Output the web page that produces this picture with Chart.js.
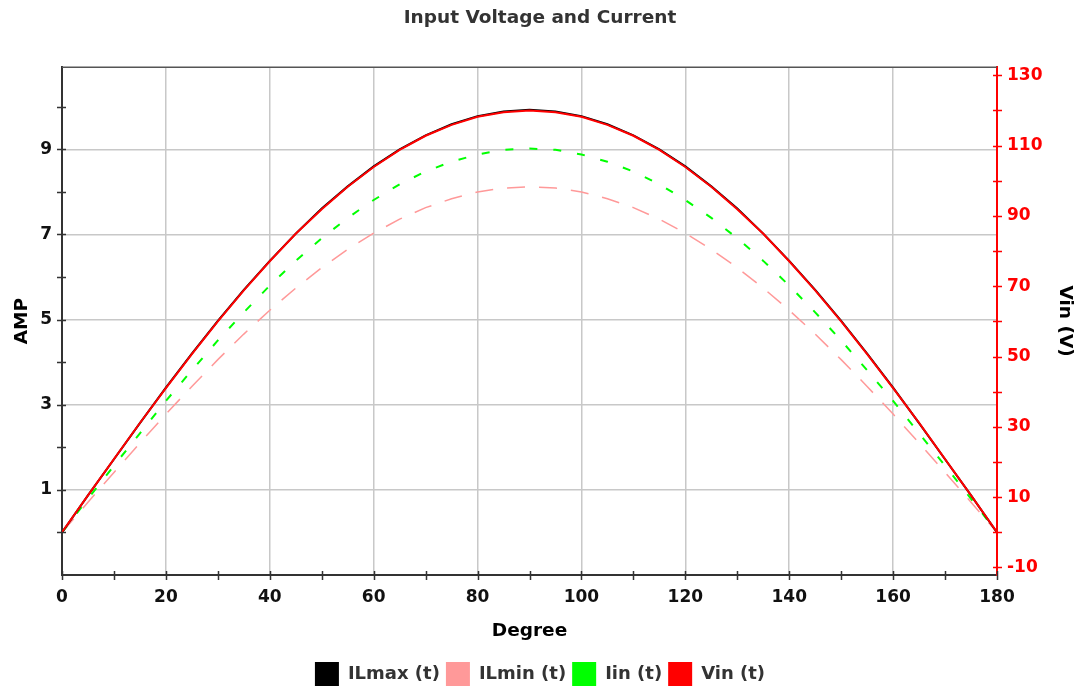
<!DOCTYPE html>
<html>
<head>
<meta charset="utf-8">
<script src="https://cdn.jsdelivr.net/npm/chart.js@4/dist/chart.umd.min.js"></script>
<style>
  html, body { margin: 0; padding: 0; background: #ffffff; }
  #wrap { width: 1080px; height: 696px; }
</style>
</head>
<body>
<div id="wrap"><canvas id="c" width="1080" height="696"></canvas></div>
<script>
// ---- Data ----
const degrees = [0,5,10,15,20,25,30,35,40,45,50,55,60,65,70,75,80,85,90,95,100,105,110,115,120,125,130,135,140,145,150,155,160,165,170,175,180];
const ilmax = [0,0.87,1.72,2.57,3.40,4.20,4.97,5.70,6.38,7.02,7.61,8.13,8.60,9.00,9.33,9.59,9.78,9.89,9.93,9.89,9.78,9.59,9.33,9.00,8.60,8.13,7.61,7.02,6.38,5.70,4.97,4.20,3.40,2.57,1.72,0.87,0];
const ilmin = [0,0.71,1.41,2.10,2.78,3.43,4.06,4.66,5.22,5.74,6.22,6.65,7.03,7.36,7.63,7.84,8.00,8.09,8.12,8.09,8.00,7.84,7.63,7.36,7.03,6.65,6.22,5.74,5.22,4.66,4.06,3.43,2.78,2.10,1.41,0.71,0];
const iin = [0,0.79,1.57,2.33,3.09,3.81,4.51,5.17,5.80,6.38,6.91,7.39,7.81,8.18,8.48,8.71,8.88,8.99,9.02,8.99,8.88,8.71,8.48,8.18,7.81,7.39,6.91,6.38,5.80,5.17,4.51,3.81,3.09,2.33,1.57,0.79,0];
const vin = [0,10.5,20.8,31.1,41.0,50.7,60.0,68.8,77.1,84.9,91.9,98.3,103.9,108.8,112.8,115.9,118.2,119.5,120.0,119.5,118.2,115.9,112.8,108.8,103.9,98.3,91.9,84.9,77.1,68.8,60.0,50.7,41.0,31.1,20.8,10.5,0];

const xTicks = [0,10,20,30,40,50,60,70,80,90,100,110,120,130,140,150,160,170,180];
const ampTicks = [0,1,2,3,4,5,6,7,8,9,10];
const voltTicks = [-10,0,10,20,30,40,50,60,70,80,90,100,110,120,130];

const seriesNames = ['ILmax (t)', 'ILmin (t)', 'Iin (t)', 'Vin (t)'];

const pts = (ys) => degrees.map((d, i) => ({ x: d, y: ys[i] }));
const FONT = "'DejaVu Sans', 'Verdana', sans-serif";

// Tick marks crossing the axis lines
const tickMarks = {
  id: 'tickMarks',
  afterDraw(chart) {
    const { ctx, chartArea: a, scales } = chart;
    ctx.save();
    ctx.strokeStyle = '#555';
    ctx.lineWidth = 1.5;
    ctx.beginPath();
    ctx.moveTo(a.left, a.top);
    ctx.lineTo(a.right, a.top);
    ctx.stroke();
    ctx.strokeStyle = '#333';
    ctx.lineWidth = 1.5;
    ctx.beginPath();
    scales.y.ticks.forEach(t => {
      const p = Math.round(scales.y.getPixelForValue(t.value)) + 0.5;
      ctx.moveTo(a.left - 5, p); ctx.lineTo(a.left + 4, p);
    });
    scales.x.ticks.forEach(t => {
      const p = Math.round(scales.x.getPixelForValue(t.value)) + 0.5;
      ctx.moveTo(p, a.bottom - 4); ctx.lineTo(p, a.bottom + 5);
    });
    ctx.stroke();
    ctx.strokeStyle = '#ff0000';
    ctx.beginPath();
    scales.y1.ticks.forEach(t => {
      const p = Math.round(scales.y1.getPixelForValue(t.value)) + 0.5;
      ctx.moveTo(a.right - 4, p); ctx.lineTo(a.right + 5, p);
    });
    ctx.stroke();
    ctx.restore();
  }
};

new Chart(document.getElementById('c'), {
  type: 'line',
  data: {
    datasets: [
      { label: seriesNames[0], data: pts(ilmax), yAxisID: 'y', borderColor: '#000000', backgroundColor: '#000000', borderWidth: 2, order: 1 },
      { label: seriesNames[1], data: pts(ilmin), yAxisID: 'y', borderColor: '#ff9999', backgroundColor: '#ff9999', borderWidth: 1.5, borderDash: [18, 14], order: 3 },
      { label: seriesNames[2], data: pts(iin), yAxisID: 'y', borderColor: '#00ff00', backgroundColor: '#00ff00', borderWidth: 2, borderDash: [8, 16], order: 2 },
      { label: seriesNames[3], data: pts(vin), yAxisID: 'y1', borderColor: '#ff0000', backgroundColor: '#ff0000', borderWidth: 2, order: 0 }
    ]
  },
  options: {
    responsive: false,
    animation: false,
    devicePixelRatio: 1,
    layout: { padding: 0 },
    elements: { point: { radius: 0, hoverRadius: 0 }, line: { tension: 0 } },
    plugins: {
      tooltip: { enabled: false },
      title: {
        display: true,
        text: 'Input Voltage and Current',
        color: '#333333',
        font: { family: FONT, size: 18.5, weight: 'bold' },
        padding: { top: 7, bottom: 38 }
      },
      legend: {
        position: 'bottom',
        labels: {
          boxWidth: 24,
          boxHeight: 24,
          padding: 6,
          color: '#333333',
          font: { family: FONT, size: 18, weight: 'bold' },
          sort: (a, b) => a.datasetIndex - b.datasetIndex,
          generateLabels: (chart) => Chart.defaults.plugins.legend.labels.generateLabels(chart).map(it => {
            it.lineWidth = 0; it.lineDash = []; it.fillStyle = it.strokeStyle; return it;
          })
        }
      }
    },
    scales: {
      x: {
        type: 'linear',
        min: 0, max: 180,
        afterBuildTicks: (s) => { s.ticks = xTicks.map(v => ({ value: v })); },
        afterFit: (s) => { s.height = 81; },
        ticks: {
          autoSkip: false, maxRotation: 0, padding: 12,
          color: '#111111',
          font: { family: FONT, size: 17, weight: 'bold' },
          callback: (v) => (v % 20 === 0 ? String(v) : '')
        },
        grid: {
          drawTicks: false,
          lineWidth: 1.5,
          color: (c) => (c.tick && c.tick.value % 20 === 0 && c.tick.value > 0 && c.tick.value < 180) ? '#c8c8c8' : 'rgba(0,0,0,0)'
        },
        border: { color: '#333333', width: 2 },
        title: { display: true, text: 'Degree', color: '#000000', font: { family: FONT, size: 18.5, weight: 'bold' }, padding: { top: 4, bottom: 14 } }
      },
      y: {
        type: 'linear',
        position: 'left',
        min: -1, max: 10.93,
        afterBuildTicks: (s) => { s.ticks = ampTicks.map(v => ({ value: v })); },
        afterFit: (s) => { s.width = 62; },
        ticks: {
          autoSkip: false, padding: 10,
          color: '#111111',
          font: { family: FONT, size: 17, weight: 'bold' },
          callback: (v) => (Math.abs(v) % 2 === 1 ? String(v) : '')
        },
        grid: {
          drawTicks: false,
          lineWidth: 1.5,
          color: (c) => (c.tick && c.tick.value % 2 === 1) ? '#c8c8c8' : 'rgba(0,0,0,0)'
        },
        border: { color: '#333333', width: 2 },
        title: { display: true, text: 'AMP', color: '#000000', font: { family: FONT, size: 18.5, weight: 'bold' }, padding: { top: 11, bottom: 0 } }
      },
      y1: {
        type: 'linear',
        position: 'right',
        min: -12.15, max: 132.3,
        afterBuildTicks: (s) => { s.ticks = voltTicks.map(v => ({ value: v })); },
        afterFit: (s) => { s.width = 83; },
        ticks: {
          autoSkip: false, padding: 10,
          color: '#ff0000',
          font: { family: FONT, size: 17, weight: 'bold' },
          callback: (v) => (Math.abs(v / 10) % 2 === 1 ? String(v) : '')
        },
        grid: { drawOnChartArea: false, drawTicks: false },
        border: { color: '#ff0000', width: 2 },
        title: { display: true, text: 'Vin (V)', color: '#000000', font: { family: FONT, size: 18.5, weight: 'bold' }, padding: { top: 4, bottom: 0 } }
      }
    }
  },
  plugins: [tickMarks]
});
</script>
</body>
</html>
